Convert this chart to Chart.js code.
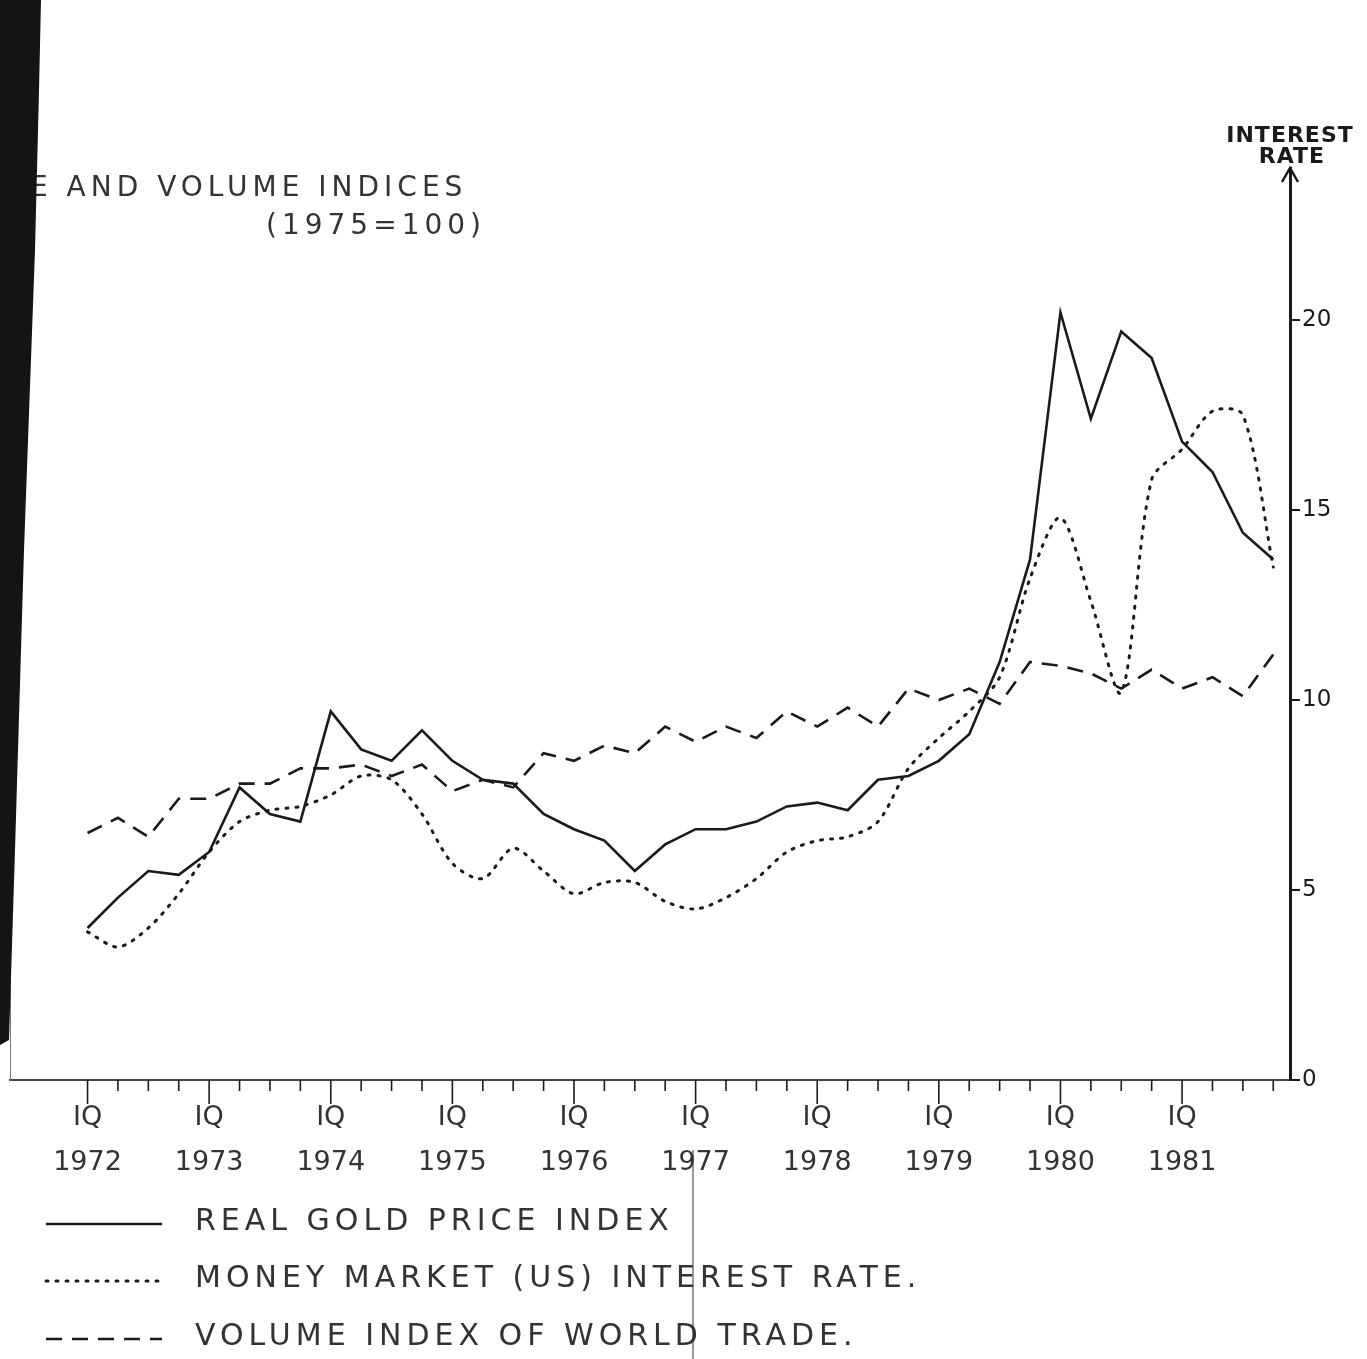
<!DOCTYPE html>
<html>
<head>
<meta charset="utf-8">
<script src="https://cdn.jsdelivr.net/npm/chart.js@4"></script>
<style>
  html, body { margin: 0; padding: 0; background: #fff; }
  #wrap { width: 1367px; height: 1359px; position: relative; }
</style>
</head>
<body>
<div id="wrap"><canvas id="myChart" width="1367" height="1359"></canvas></div>
<script>
// quarters IQ 1972 .. IVQ 1981
const years = [1972, 1973, 1974, 1975, 1976, 1977, 1978, 1979, 1980, 1981];
const quarters = [];
years.forEach((y) => { for (let q = 1; q <= 4; q++) quarters.push(q + "Q " + y); });

// all read against the right hand (interest rate) scale
const goldIndex = [4.0, 4.8, 5.5, 5.4, 6.0, 7.7, 7.0, 6.8, 9.7, 8.7, 8.4, 9.2,
  8.4, 7.9, 7.8, 7.0, 6.6, 6.3, 5.5, 6.2, 6.6, 6.6, 6.8, 7.2,
  7.3, 7.1, 7.9, 8.0, 8.4, 9.1, 11.0, 13.7, 20.2, 17.4, 19.7, 19.0,
  16.8, 16.0, 14.4, 13.7];
const interestRate = [3.9, 3.5, 4.0, 4.9, 6.0, 6.8, 7.1, 7.2, 7.5, 8.0, 7.9, 7.0,
  5.7, 5.3, 6.1, 5.5, 4.9, 5.2, 5.2, 4.7, 4.5, 4.8, 5.3, 6.0,
  6.3, 6.4, 6.8, 8.2, 9.0, 9.7, 10.6, 13.2, 14.8, 12.6, 10.2, 15.8,
  16.6, 17.6, 17.5, 13.5];
const tradeVolume = [6.5, 6.9, 6.4, 7.4, 7.4, 7.8, 7.8, 8.2, 8.2, 8.3, 8.0, 8.3,
  7.6, 7.9, 7.7, 8.6, 8.4, 8.8, 8.6, 9.3, 8.9, 9.3, 9.0, 9.7,
  9.3, 9.8, 9.3, 10.3, 10.0, 10.3, 9.9, 11.0, 10.9, 10.7, 10.3, 10.8,
  10.3, 10.6, 10.1, 11.2];
const rateTicks = [0, 5, 10, 15, 20];
const seriesNames = ["REAL GOLD PRICE INDEX", "MONEY MARKET (US) INTEREST RATE.", "VOLUME INDEX OF WORLD TRADE."];

const ink = "#1a1a1a";
const FONT = "'DejaVu Sans', sans-serif";

function pts(arr) {
  return arr.map((v, i) => ({ x: i, y: v }));
}

// scan artefacts, titles, hanging ticks and the legend
const paperPlugin = {
  id: "paper",
  afterDraw(chart) {
    const c = chart.ctx;
    const xs = chart.scales.x;
    const ys = chart.scales.y;
    const area = chart.chartArea;
    c.save();

    // hanging quarter ticks
    c.strokeStyle = ink;
    c.lineWidth = 1.6;
    quarters.forEach((q, i) => {
      const px = xs.getPixelForValue(i);
      const len = i % 4 === 0 ? 24 : 11;
      c.beginPath();
      c.moveTo(px, area.bottom);
      c.lineTo(px, area.bottom + len);
      c.stroke();
    });

    // arrow head on interest axis
    const ax = ys.left;
    c.lineWidth = 2.5;
    c.beginPath();
    c.moveTo(ax - 8, area.top + 14);
    c.lineTo(ax, area.top);
    c.lineTo(ax + 8, area.top + 14);
    c.stroke();

    c.fillStyle = ink;
    c.letterSpacing = "1px";
    c.font = "bold 22px " + FONT;
    c.textAlign = "center";
    c.fillText("INTEREST", 1290, 142);
    c.fillText("RATE", 1292, 163);

    // top-left title
    c.font = "28px " + FONT;
    c.letterSpacing = "5px";
    c.textAlign = "left";
    c.fillStyle = "#333";
    c.fillText("E AND VOLUME INDICES", 30, 196);
    c.fillText("(1975=100)", 266, 234);

    // legend
    const rows = [1222, 1279, 1337];
    chart.data.datasets.forEach((ds, i) => {
      const y = rows[i];
      c.strokeStyle = ds.borderColor;
      c.lineWidth = ds.borderWidth;
      c.lineCap = ds.borderCapStyle || "butt";
      c.setLineDash(ds.borderDash || []);
      c.beginPath();
      c.moveTo(46, y + 2);
      c.lineTo(162, y + 2);
      c.stroke();
      c.setLineDash([]);
      c.font = "30px " + FONT;
      c.letterSpacing = "5px";
      c.fillStyle = "#333";
      c.textBaseline = "middle";
      c.fillText(ds.label, 195, y);
    });

    // fold line and black bar from the scan
    c.strokeStyle = "#333";
    c.lineWidth = 1;
    c.beginPath();
    c.moveTo(693, 1150);
    c.lineTo(693, 1359);
    c.stroke();

    c.fillStyle = "#141414";
    c.beginPath();
    c.moveTo(0, 0);
    c.lineTo(41, 0);
    c.lineTo(39, 90);
    c.lineTo(35, 250);
    c.lineTo(24, 550);
    c.lineTo(15, 850);
    c.lineTo(9, 1040);
    c.lineTo(0, 1045);
    c.closePath();
    c.fill();
    c.restore();
  }
};

new Chart(document.getElementById("myChart"), {
  type: "line",
  data: {
    datasets: [
      {
        label: seriesNames[0],
        data: pts(goldIndex),
        borderColor: ink,
        borderWidth: 2.6,
        pointRadius: 0,
        tension: 0,
        yAxisID: "y"
      },
      {
        label: seriesNames[1],
        data: pts(interestRate),
        borderColor: ink,
        borderWidth: 3,
        borderDash: [2, 8],
        borderCapStyle: "round",
        pointRadius: 0,
        tension: 0.3,
        yAxisID: "y"
      },
      {
        label: seriesNames[2],
        data: pts(tradeVolume),
        borderColor: ink,
        borderWidth: 2.6,
        borderDash: [16, 10],
        pointRadius: 0,
        tension: 0,
        yAxisID: "y"
      }
    ]
  },
  options: {
    responsive: false,
    animation: false,
    layout: { padding: { top: 168, left: 0, right: 0, bottom: 0 } },
    plugins: {
      legend: { display: false },
      tooltip: { enabled: false }
    },
    scales: {
      x: {
        type: "linear",
        min: -2.55,
        max: 39.55,
        afterBuildTicks: (scale) => {
          scale.ticks = quarters.map((q, i) => ({ value: i }));
        },
        afterFit: (scale) => { scale.height = 1359 - 1080; },
        grid: { display: false },
        border: { display: true, color: "#444", width: 2 },
        ticks: {
          autoSkip: false,
          maxRotation: 0,
          padding: 8,
          color: "#333",
          font: { family: FONT, size: 27, lineHeight: 1.65 },
          callback: (v) => (v % 4 === 0 ? ["IQ", String(years[v / 4])] : "")
        }
      },
      yL: {
        position: "left",
        afterFit: (scale) => { scale.width = 10; },
        grid: { display: false },
        border: { display: true, color: "#777", width: 1, dash: [6, 5] },
        ticks: { display: false }
      },
      y: {
        position: "right",
        min: 0,
        max: 24,
        afterBuildTicks: (scale) => {
          scale.ticks = rateTicks.map((v) => ({ value: v }));
        },
        afterFit: (scale) => { scale.width = 1367 - 1290; },
        grid: { drawOnChartArea: false, tickLength: 10, color: ink, lineWidth: 2 },
        border: { display: true, color: ink, width: 3 },
        ticks: {
          padding: 2,
          color: ink,
          font: { family: FONT, size: 23 }
        }
      }
    }
  },
  plugins: [paperPlugin]
});
</script>
</body>
</html>
